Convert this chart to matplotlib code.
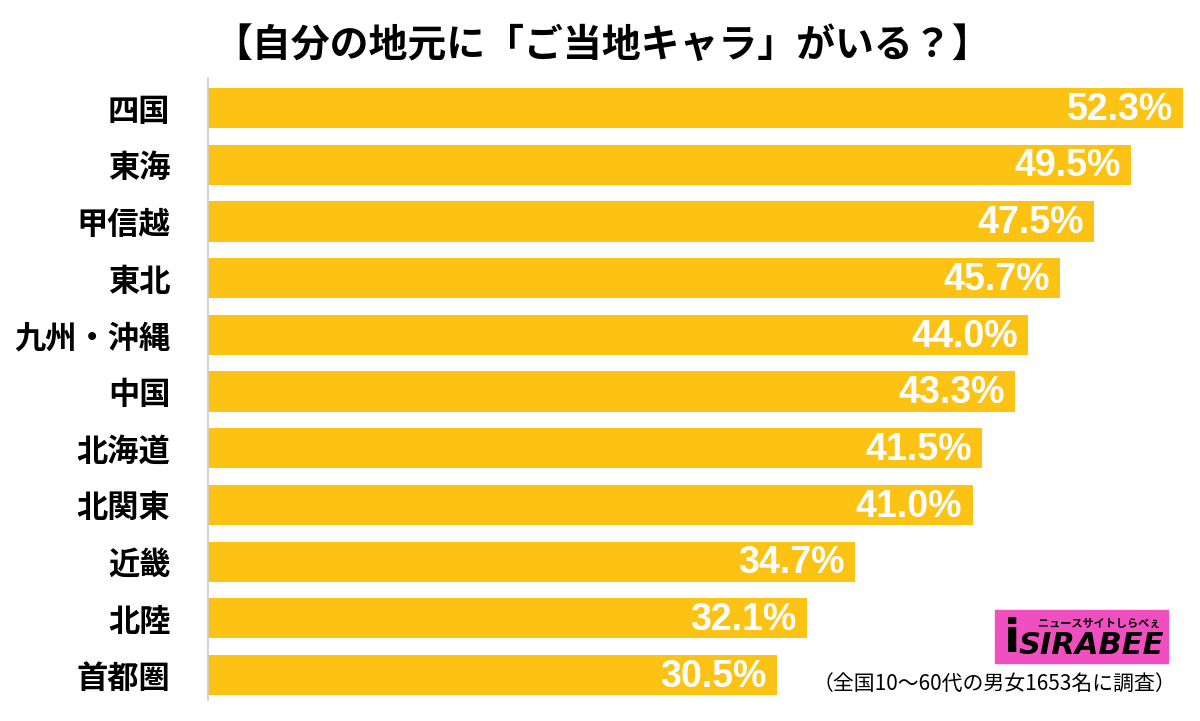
import matplotlib.pyplot as plt
from matplotlib.patches import Rectangle

plt.rcParams['font.family'] = ['Noto Sans CJK JP', 'DejaVu Sans']

regions = ["四国", "東海", "甲信越", "東北", "九州・沖縄", "中国",
           "北海道", "北関東", "近畿", "北陸", "首都圏"]
values = [52.3, 49.5, 47.5, 45.7, 44.0, 43.3, 41.5, 41.0, 34.7, 32.1, 30.5]

fig = plt.figure(figsize=(12, 7.21), dpi=100)
ax = fig.add_axes([208 / 1200, 21 / 721, 992 / 1200, 622 / 721])

pos = list(range(len(regions)))
ax.barh(pos, values, height=0.71, color="#FCC314")
ax.set_xlim(0, 53.2)
ax.set_ylim(10.44, -0.53)

for p, v in zip(pos, values):
    ax.text(v - 0.55, p + 0.03, f"{v:.1f}%", ha="right", va="center",
            color="white", fontsize=27, fontweight="bold", family="Liberation Sans")

ax.set_yticks(pos)
ax.set_yticklabels(regions, fontsize=22.5, fontweight="bold")
ax.tick_params(axis="y", length=0, pad=27)
ax.set_xticks([])
for s in ["top", "right", "bottom"]:
    ax.spines[s].set_visible(False)
ax.spines["left"].set_color("#cccccc")
ax.spines["left"].set_linewidth(1.2)

fig.text(0.502, 1 - 45 / 721, "【自分の地元に「ご当地キャラ」がいる？】", ha="center",
         va="center", fontsize=28, fontweight="bold")

# logo
fig.patches.append(Rectangle((995 / 1200, 1 - 663 / 721), 173 / 1200, 53 / 721,
                             transform=fig.transFigure, color="#F04FC0", zorder=5))
fig.text(1160 / 1200, 1 - 623 / 721, "ニュースサイトしらべぇ", ha="right", va="center",
         fontsize=8, fontweight="bold", zorder=6)
fig.text(1164 / 1200, 1 - 646 / 721, "SIRABEE", ha="right", va="center",
         fontsize=22, fontweight="bold", style="italic", family="DejaVu Sans", zorder=6)
fig.text(1012 / 1200, 1 - 640 / 721, "i", ha="center", va="center",
         fontsize=34, fontweight="bold", family="DejaVu Sans", zorder=6)

fig.text(1176 / 1200, 1 - 684 / 721, "（全国10～60代の男女1653名に調査）", ha="right",
         va="center", fontsize=15)

fig.savefig("out.png", dpi=100, facecolor="white")
